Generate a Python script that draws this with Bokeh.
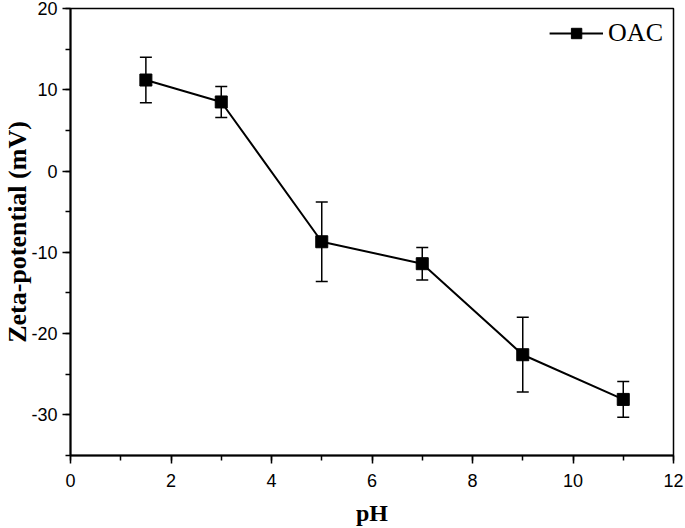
from bokeh.plotting import figure
from bokeh.models import (ColumnDataSource, Whisker, TeeHead, SingleIntervalTicker, Range1d,
                          Legend, LegendItem, PrintfTickFormatter)
from bokeh.embed import file_html
from bokeh.resources import INLINE

ph = [1.5, 3, 5, 7, 9, 11]
zeta = [11.2, 8.5, -8.7, -11.4, -22.6, -28.1]
err = [2.8, 1.9, 4.9, 2.0, 4.6, 2.2]

x_title = "pH"
y_title = "Zeta-potential (mV)"
series_name = "OAC"

upper = [z + e for z, e in zip(zeta, err)]
lower = [z - e for z, e in zip(zeta, err)]
src = ColumnDataSource(dict(x=ph, y=zeta, upper=upper, lower=lower))

p = figure(width=685, height=528, output_backend="svg", toolbar_location=None,
           x_range=Range1d(0, 12), y_range=Range1d(-35, 20),
           min_border_left=69, min_border_right=12, min_border_top=8, min_border_bottom=73)
p.grid.visible = False
p.outline_line_color = "black"
p.outline_line_width = 1.5
p.background_fill_color = "white"

w = Whisker(source=src, base="x", upper="upper", lower="lower", line_color="black", line_width=1.5,
            upper_head=TeeHead(size=12, line_color="black", line_width=1.5),
            lower_head=TeeHead(size=12, line_color="black", line_width=1.5))
p.add_layout(w)

r_line = p.line("x", "y", source=src, line_color="black", line_width=2)
r_sq = p.scatter("x", "y", source=src, marker="square", size=12, fill_color="black", line_color="black")

p.xaxis.ticker = SingleIntervalTicker(interval=2, num_minor_ticks=2)
p.yaxis.ticker = SingleIntervalTicker(interval=10, num_minor_ticks=2)
for ax in (p.xaxis[0], p.yaxis[0]):
    ax.formatter = PrintfTickFormatter(format="%d")
    ax.axis_line_width = 2
    ax.axis_line_color = "black"
    ax.major_tick_line_color = "black"
    ax.minor_tick_line_color = "black"
    ax.major_tick_line_width = 1.5
    ax.minor_tick_line_width = 1.5
    ax.major_tick_out = 8
    ax.major_tick_in = 0
    ax.minor_tick_out = 5
    ax.minor_tick_in = 0
    ax.major_label_text_font = "Liberation Sans"
    ax.major_label_text_font_size = "18px"
    ax.major_label_text_color = "black"
    ax.major_label_text_line_height = 1.0
    ax.axis_label_text_font = "Liberation Serif"
    ax.axis_label_text_font_style = "bold"
    ax.axis_label_text_color = "black"
    ax.axis_label_text_line_height = 1.0

p.xaxis.axis_label = x_title
p.yaxis.axis_label = y_title
p.xaxis.axis_label_text_font_size = "24px"
p.yaxis.axis_label_text_font_size = "26px"
p.xaxis.major_label_standoff = 10
p.xaxis.axis_label_standoff = 10
p.yaxis.major_label_standoff = 5
p.yaxis.axis_label_standoff = -4

legend = Legend(items=[LegendItem(label=series_name, renderers=[r_line, r_sq])], location="top_right")
legend.border_line_color = None
legend.background_fill_alpha = 0
legend.label_text_font = "Liberation Serif"
legend.label_text_font_size = "26px"
legend.label_text_color = "black"
legend.glyph_width = 54
legend.glyph_height = 26
legend.margin = 10
legend.padding = 12
legend.label_standoff = 5
p.add_layout(legend)

open("out.html", "w").write(file_html(p, INLINE))
